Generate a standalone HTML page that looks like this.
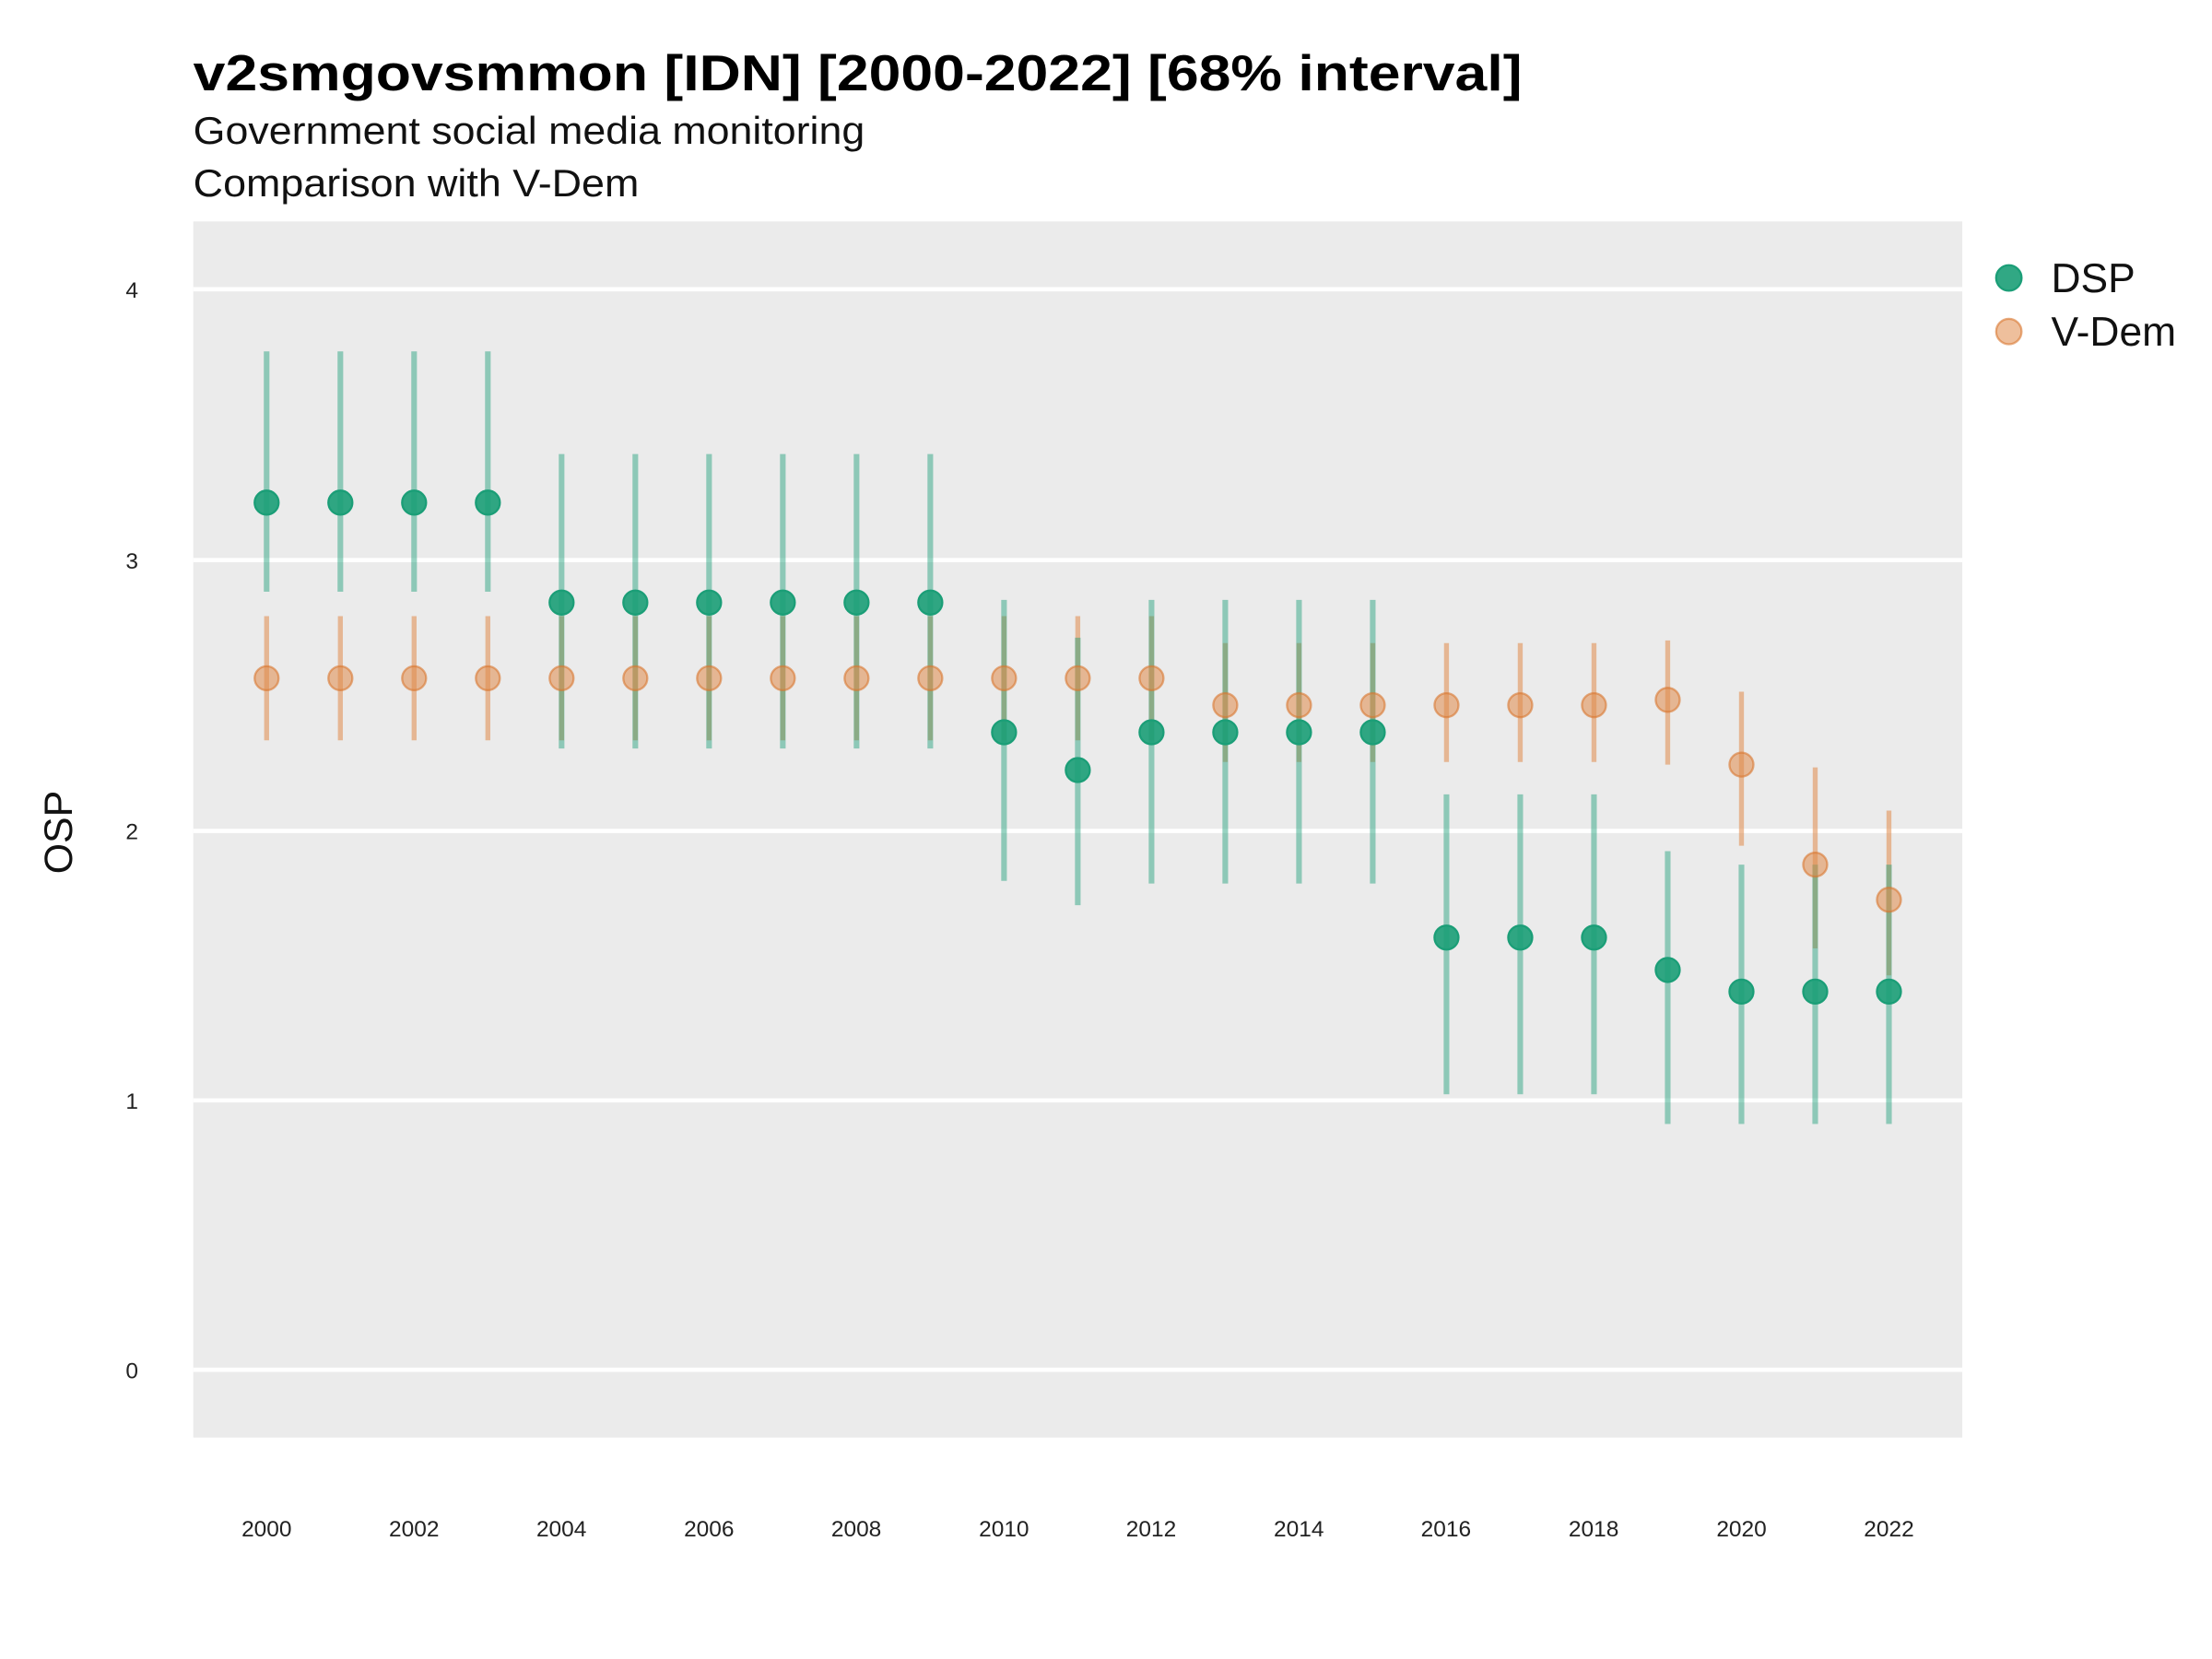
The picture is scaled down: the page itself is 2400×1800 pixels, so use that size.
<!DOCTYPE html>
<html><head><meta charset="utf-8"><style>html,body{margin:0;padding:0;background:#fff}svg{display:block}</style></head>
<body>
<svg id="s" xmlns="http://www.w3.org/2000/svg" width="2400" height="1800" viewBox="0 0 1568 1176" font-family="Liberation Sans, sans-serif">
<rect width="1568" height="1176" fill="#fff"/>
<text x="137" y="64" font-size="36" font-weight="bold" fill="#000" textLength="942" lengthAdjust="spacingAndGlyphs">v2smgovsmmon [IDN] [2000-2022] [68% interval]</text>
<text x="137" y="102" font-size="27" fill="#111" textLength="476" lengthAdjust="spacingAndGlyphs">Government social media monitoring</text>
<text x="137" y="139" font-size="27" fill="#111" textLength="316" lengthAdjust="spacingAndGlyphs">Comparison with V-Dem</text>
<rect x="137" y="157" width="1254" height="862" fill="#ebebeb"/>
<g stroke="#fff" stroke-width="3">
<line x1="137" x2="1391" y1="205" y2="205"/><line x1="137" x2="1391" y1="397" y2="397"/>
<line x1="137" x2="1391" y1="589" y2="589"/><line x1="137" x2="1391" y1="780" y2="780"/>
<line x1="137" x2="1391" y1="971" y2="971"/>
</g>
<g font-size="16" fill="#222" text-anchor="end">
<text x="98" y="211">4</text><text x="98" y="403">3</text><text x="98" y="595">2</text><text x="98" y="786">1</text><text x="98" y="977">0</text>
</g>
<g font-size="16" fill="#222" text-anchor="middle">
<text x="189" y="1089">2000</text><text x="293.5" y="1089">2002</text><text x="398" y="1089">2004</text><text x="502.6" y="1089">2006</text><text x="607" y="1089">2008</text><text x="711.7" y="1089">2010</text><text x="816" y="1089">2012</text><text x="920.7" y="1089">2014</text><text x="1025" y="1089">2016</text><text x="1129.7" y="1089">2018</text><text x="1234.5" y="1089">2020</text><text x="1339" y="1089">2022</text>
</g>
<text transform="translate(51,590) rotate(-90)" font-size="28" fill="#111" text-anchor="middle">OSP</text>
<g id="d"></g>
<circle cx="1424" cy="197" r="9" fill="#1b9e77" fill-opacity="0.9" stroke="#1b9e77" stroke-width="1.5"/>
<text x="1454" y="207" font-size="29" fill="#111">DSP</text>
<circle cx="1424" cy="235" r="9" fill="#e08a4a" fill-opacity="0.55" stroke="#d9772f" stroke-opacity="0.6" stroke-width="1.5"/>
<text x="1454" y="245" font-size="29" fill="#111">V-Dem</text>
</svg>
<script>
var dsp=[],vd=[];
for(var y=2000;y<=2022;y++){
 var d;
 if(y<=2003)d=[3.21,2.88,3.77];else if(y<=2009)d=[2.84,2.30,3.39];else if(y==2010)d=[2.36,1.81,2.85];
 else if(y==2011)d=[2.22,1.72,2.71];else if(y<=2015)d=[2.36,1.80,2.85];else if(y<=2018)d=[1.60,1.02,2.13];
 else if(y==2019)d=[1.48,0.91,1.92];else d=[1.40,0.91,1.87];
 dsp.push(d);
 var v;
 if(y<=2012)v=[2.56,2.33,2.79];else if(y<=2018)v=[2.46,2.25,2.69];else if(y==2019)v=[2.48,2.24,2.70];
 else if(y==2020)v=[2.24,1.94,2.51];else if(y==2021)v=[1.87,1.56,2.23];else v=[1.74,1.46,2.07];
 vd.push(v);
}
function X(i){return 189+i*1150/22}function Y(v){return 971-v*191.5}
var h='';
for(var i=0;i<23;i++){var v=vd[i];h+='<line x1="'+X(i)+'" x2="'+X(i)+'" y1="'+Y(v[1])+'" y2="'+Y(v[2])+'" stroke="#e08a4a" stroke-opacity="0.55" stroke-width="3.5"/>';}
for(var i=0;i<23;i++){var d=dsp[i];h+='<line x1="'+X(i)+'" x2="'+X(i)+'" y1="'+Y(d[1])+'" y2="'+Y(d[2])+'" stroke="#1b9e77" stroke-opacity="0.45" stroke-width="4"/>';}
for(var i=0;i<23;i++){var v=vd[i];h+='<circle cx="'+X(i)+'" cy="'+Y(v[0])+'" r="8.5" fill="#e08a4a" fill-opacity="0.55" stroke="#d9772f" stroke-opacity="0.6" stroke-width="1.5"/>';}
for(var i=0;i<23;i++){var d=dsp[i];h+='<circle cx="'+X(i)+'" cy="'+Y(d[0])+'" r="8.5" fill="#1b9e77" fill-opacity="0.9" stroke="#1b9e77" stroke-width="1.5"/>';}
document.getElementById('d').innerHTML=h;
</script>
</body></html>
